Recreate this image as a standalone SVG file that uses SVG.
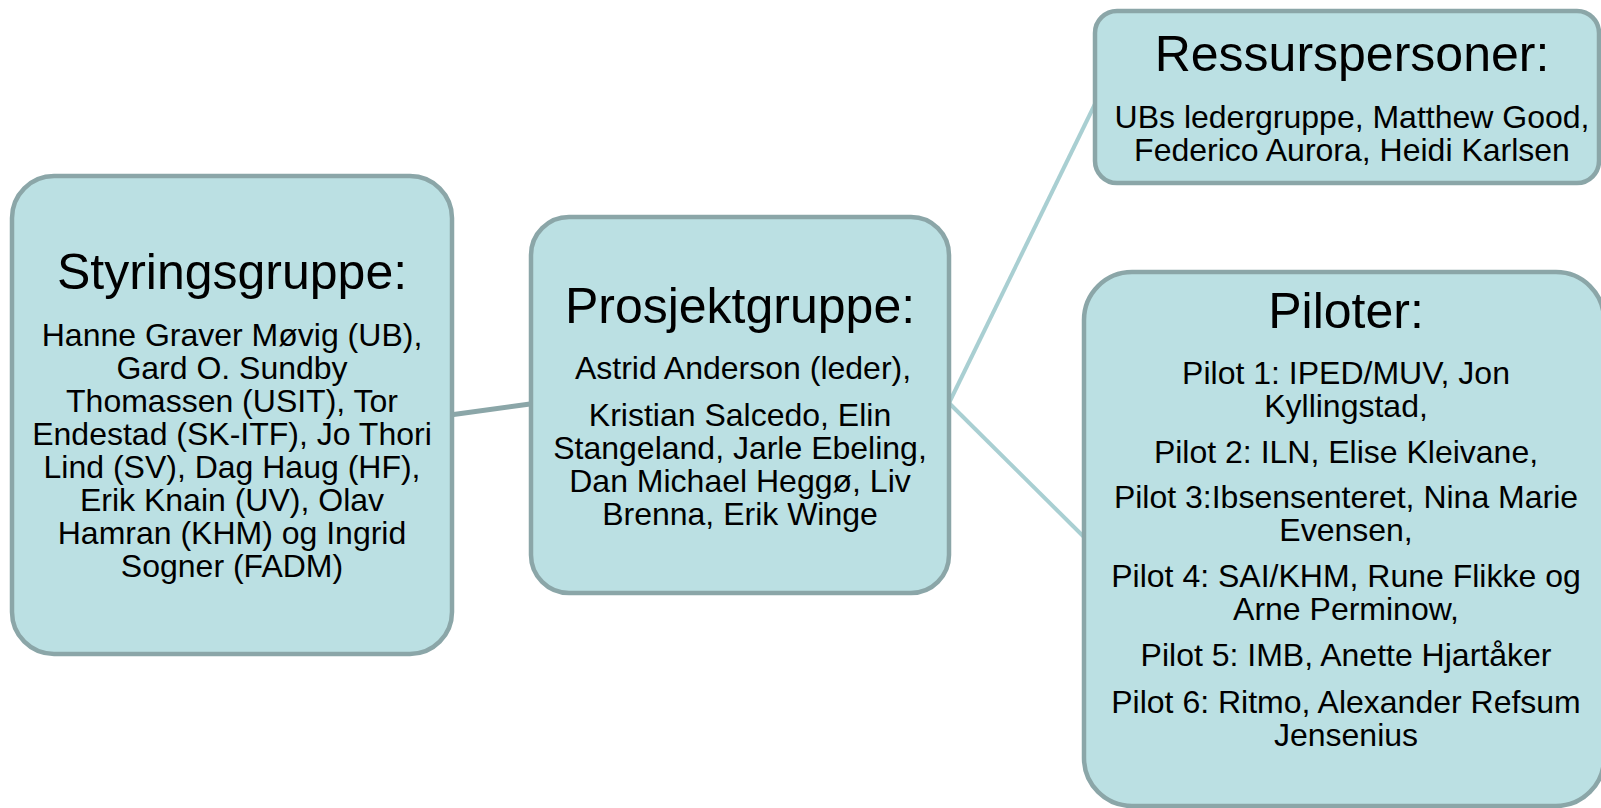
<svg xmlns="http://www.w3.org/2000/svg" width="1601" height="808" viewBox="0 0 1601 808">
<style>
.box{fill:#bbe0e3;stroke:#8ba6a8;stroke-width:4.5}
.t{font-family:"Liberation Sans",Arial,sans-serif;fill:#000;text-anchor:middle}
.h{font-size:50px}
.b{font-size:32px}
.c1{stroke:#8ba6a8;stroke-width:5;fill:none}
.c2{stroke:#a9cfd2;stroke-width:4;fill:none}
</style>
<rect width="1601" height="808" fill="#ffffff"/>
<g id="connectors">
<line class="c1" x1="450" y1="415" x2="530" y2="404"/>
<line class="c2" x1="949" y1="403" x2="1095" y2="104"/>
<line class="c2" x1="949" y1="403" x2="1084" y2="537"/>
</g>
<g id="styringsgruppe">
<rect class="box" x="12" y="176" width="440" height="478" rx="42" ry="42"/>
<text class="t h" x="232" y="289">Styringsgruppe:</text>
<text class="t b" x="232" y="346">Hanne Graver Møvig (UB),</text>
<text class="t b" x="232" y="379">Gard O. Sundby</text>
<text class="t b" x="232" y="412">Thomassen (USIT), Tor</text>
<text class="t b" x="232" y="445">Endestad (SK-ITF), Jo Thori</text>
<text class="t b" x="232" y="478">Lind (SV), Dag Haug (HF),</text>
<text class="t b" x="232" y="511">Erik Knain (UV), Olav</text>
<text class="t b" x="232" y="544">Hamran (KHM) og Ingrid</text>
<text class="t b" x="232" y="577">Sogner (FADM)</text>
</g>
<g id="prosjektgruppe">
<rect class="box" x="531" y="217" width="418" height="376" rx="38" ry="38"/>
<text class="t h" x="740" y="323">Prosjektgruppe:</text>
<text class="t b" x="743" y="379">Astrid Anderson (leder),</text>
<text class="t b" x="740" y="426">Kristian Salcedo, Elin</text>
<text class="t b" x="740" y="459">Stangeland, Jarle Ebeling,</text>
<text class="t b" x="740" y="492">Dan Michael Heggø, Liv</text>
<text class="t b" x="740" y="525">Brenna, Erik Winge</text>
</g>
<g id="ressurspersoner">
<rect class="box" x="1095" y="11" width="504" height="172" rx="22" ry="22"/>
<text class="t h" x="1352" y="71">Ressurspersoner:</text>
<text class="t b" x="1352" y="128">UBs ledergruppe, Matthew Good,</text>
<text class="t b" x="1352" y="161">Federico Aurora, Heidi Karlsen</text>
</g>
<g id="piloter">
<rect class="box" x="1084" y="272" width="520" height="534" rx="48" ry="48"/>
<text class="t h" x="1346" y="328">Piloter:</text>
<text class="t b" x="1346" y="384">Pilot 1: IPED/MUV, Jon</text>
<text class="t b" x="1346" y="417">Kyllingstad,</text>
<text class="t b" x="1346" y="463">Pilot 2: ILN, Elise Kleivane,</text>
<text class="t b" x="1346" y="508">Pilot 3:Ibsensenteret, Nina Marie</text>
<text class="t b" x="1346" y="541">Evensen,</text>
<text class="t b" x="1346" y="587">Pilot 4: SAI/KHM, Rune Flikke og</text>
<text class="t b" x="1346" y="620">Arne Perminow,</text>
<text class="t b" x="1346" y="666">Pilot 5: IMB, Anette Hjartåker</text>
<text class="t b" x="1346" y="713">Pilot 6: Ritmo, Alexander Refsum</text>
<text class="t b" x="1346" y="746">Jensenius</text>
</g>
</svg>
